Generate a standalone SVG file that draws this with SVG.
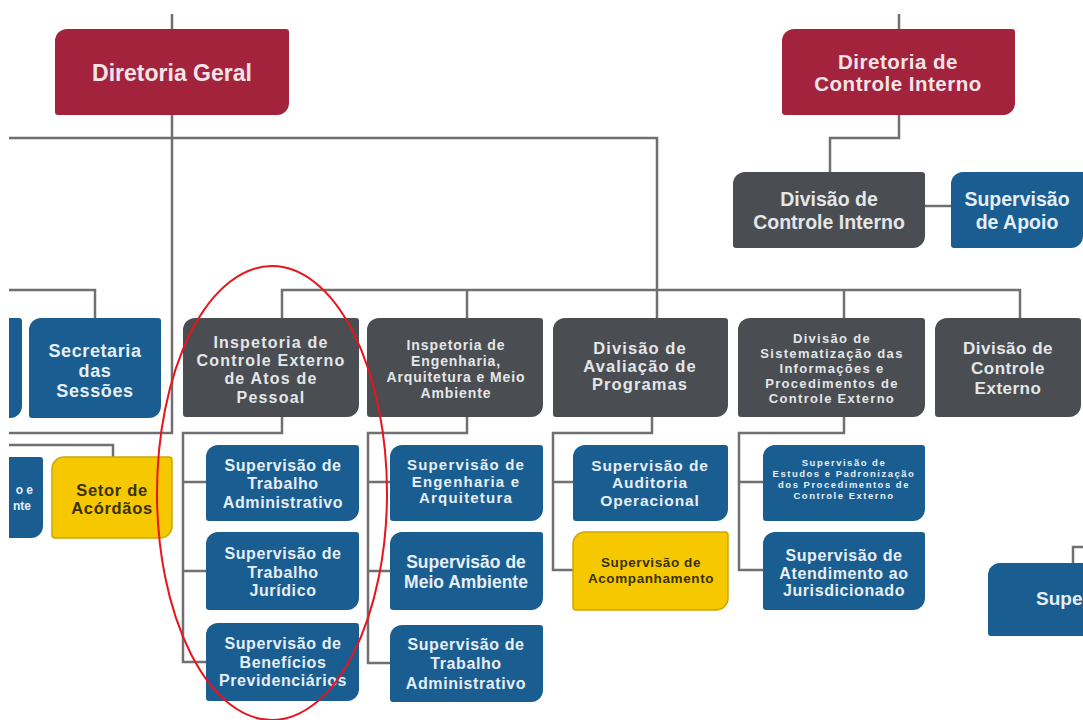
<svg xmlns="http://www.w3.org/2000/svg" width="1083" height="720" viewBox="0 0 1083 720">
<style>
.bg{fill:#ffffff}
.crim{fill:#A3233D}
.gray{fill:#4A4E52}
.blue{fill:#1A5E91}
.yel{fill:#F5C800;stroke:#CFA500;stroke-width:1.5}
.ln{fill:none;stroke:#707070;stroke-width:2.5}
text{font-family:"Liberation Sans",Arial,sans-serif;font-weight:bold;text-anchor:middle}
.tc{fill:#F3E4E8}
.tg{fill:#E4E6E8}
.tb{fill:#E6EEF6}
.ty{fill:#3A3000}
.sup{font-size:16px;letter-spacing:0.6px}
</style>
<rect class="bg" width="1083" height="720"/>
<g id="connectors">
<path class="ln" d="M172,14 V433 H9"/>
<path class="ln" d="M899,14 V29"/>
<path class="ln" d="M9,138 H657 V318"/>
<path class="ln" d="M899,115 V138 H830 V172"/>
<path class="ln" d="M925,206 H951"/>
<path class="ln" d="M9,290 H95 V318"/>
<path class="ln" d="M282,318 V290 H1020 V318"/>
<path class="ln" d="M467,290 V318"/>
<path class="ln" d="M844,290 V318"/>
<path class="ln" d="M9,445 H113 V457"/>
<path class="ln" d="M282,417 V433 H183 V662 H206 M183,482 H206 M183,571 H206"/>
<path class="ln" d="M467,417 V433 H368 V663 H390 M368,482 H390 M368,571 H390"/>
<path class="ln" d="M652,417 V433 H553 V570 H573 M553,482 H573"/>
<path class="ln" d="M844,417 V433 H739 V570 H763 M739,482 H763"/>
<path class="ln" d="M1073,563 V547 H1083"/>
</g>
<g id="diretoria-geral">
<path class="crim" d="M67,29 H286 A3,3 0 0 1 289,32 V103 A12,12 0 0 1 277,115 H58 A3,3 0 0 1 55,112 V41 A12,12 0 0 1 67,29 Z"/>
<text class="tc" x="172" y="80.5" font-size="23">Diretoria Geral</text>
</g>
<g id="diretoria-controle-interno">
<path class="crim" d="M794,29 H1012 A3,3 0 0 1 1015,32 V103 A12,12 0 0 1 1003,115 H785 A3,3 0 0 1 782,112 V41 A12,12 0 0 1 794,29 Z"/>
<text class="tc" x="898" y="69" font-size="20.5" letter-spacing="0.5">Diretoria de</text>
<text class="tc" x="898" y="91" font-size="20.5" letter-spacing="0.5">Controle Interno</text>
</g>
<g id="divisao-controle-interno">
<path class="gray" d="M745,172 H922 A3,3 0 0 1 925,175 V236 A12,12 0 0 1 913,248 H736 A3,3 0 0 1 733,245 V184 A12,12 0 0 1 745,172 Z"/>
<text class="tg" x="829" y="206" font-size="19.5">Divisão de</text>
<text class="tg" x="829" y="229" font-size="19.5">Controle Interno</text>
</g>
<g id="supervisao-apoio">
<path class="blue" d="M963,172 H1083 V236 A12,12 0 0 1 1071,248 H954 A3,3 0 0 1 951,245 V184 A12,12 0 0 1 963,172 Z"/>
<text class="tb" x="1017" y="206" font-size="19.5">Supervisão</text>
<text class="tb" x="1017" y="229" font-size="19.5">de Apoio</text>
</g>
<g id="partial-left-top">
<path class="blue" d="M9,318 H19 A3,3 0 0 1 22,321 V406 A12,12 0 0 1 10,418 H9 Z"/>
</g>
<g id="secretaria-sessoes">
<path class="blue" d="M41,318 H158 A3,3 0 0 1 161,321 V406 A12,12 0 0 1 149,418 H32 A3,3 0 0 1 29,415 V330 A12,12 0 0 1 41,318 Z"/>
<text class="tb" x="95" y="357" font-size="18" letter-spacing="0.6">Secretaria</text>
<text class="tb" x="95" y="377" font-size="18" letter-spacing="0.6">das</text>
<text class="tb" x="95" y="397" font-size="18" letter-spacing="0.6">Sessões</text>
</g>
<g id="inspetoria-atos-pessoal">
<path class="gray" d="M195,318 H356 A3,3 0 0 1 359,321 V405 A12,12 0 0 1 347,417 H186 A3,3 0 0 1 183,414 V330 A12,12 0 0 1 195,318 Z"/>
<text class="tg" x="271" y="347.5" font-size="16" letter-spacing="1.2">Inspetoria de</text>
<text class="tg" x="271" y="365.5" font-size="16" letter-spacing="1.2">Controle Externo</text>
<text class="tg" x="271" y="383.5" font-size="16" letter-spacing="1.2">de Atos de</text>
<text class="tg" x="271" y="402.5" font-size="16" letter-spacing="1.2">Pessoal</text>
</g>
<g id="inspetoria-engenharia">
<path class="gray" d="M379,318 H540 A3,3 0 0 1 543,321 V405 A12,12 0 0 1 531,417 H370 A3,3 0 0 1 367,414 V330 A12,12 0 0 1 379,318 Z"/>
<text class="tg" x="456" y="350" font-size="14" letter-spacing="0.9">Inspetoria de</text>
<text class="tg" x="456" y="366" font-size="14" letter-spacing="0.9">Engenharia,</text>
<text class="tg" x="456" y="382" font-size="14" letter-spacing="0.9">Arquitetura e Meio</text>
<text class="tg" x="456" y="398" font-size="14" letter-spacing="0.9">Ambiente</text>
</g>
<g id="divisao-avaliacao-programas">
<path class="gray" d="M565,318 H725 A3,3 0 0 1 728,321 V405 A12,12 0 0 1 716,417 H556 A3,3 0 0 1 553,414 V330 A12,12 0 0 1 565,318 Z"/>
<text class="tg" x="640" y="354" font-size="16.5" letter-spacing="1.1">Divisão de</text>
<text class="tg" x="640" y="372" font-size="16.5" letter-spacing="1.1">Avaliação de</text>
<text class="tg" x="640" y="390" font-size="16.5" letter-spacing="1.1">Programas</text>
</g>
<g id="divisao-sistematizacao">
<path class="gray" d="M750,318 H922 A3,3 0 0 1 925,321 V405 A12,12 0 0 1 913,417 H741 A3,3 0 0 1 738,414 V330 A12,12 0 0 1 750,318 Z"/>
<text class="tg" x="832" y="343" font-size="13" letter-spacing="1.3">Divisão de</text>
<text class="tg" x="832" y="358" font-size="13" letter-spacing="1.3">Sistematização das</text>
<text class="tg" x="832" y="373" font-size="13" letter-spacing="1.3">Informações e</text>
<text class="tg" x="832" y="388" font-size="13" letter-spacing="1.3">Procedimentos de</text>
<text class="tg" x="832" y="403" font-size="13" letter-spacing="1.3">Controle Externo</text>
</g>
<g id="divisao-controle-externo">
<path class="gray" d="M947,318 H1078 A3,3 0 0 1 1081,321 V405 A12,12 0 0 1 1069,417 H938 A3,3 0 0 1 935,414 V330 A12,12 0 0 1 947,318 Z"/>
<text class="tg" x="1008" y="354" font-size="17" letter-spacing="0.5">Divisão de</text>
<text class="tg" x="1008" y="374" font-size="17" letter-spacing="0.5">Controle</text>
<text class="tg" x="1008" y="394" font-size="17" letter-spacing="0.5">Externo</text>
</g>
<g id="partial-left-bottom">
<path class="blue" d="M9,457 H40 A3,3 0 0 1 43,460 V526 A12,12 0 0 1 31,538 H9 Z"/>
<text class="tb" x="33" y="494" font-size="12" style="text-anchor:end">o e</text>
<text class="tb" x="31" y="510" font-size="12" style="text-anchor:end">nte</text>
</g>
<g id="setor-acordaos">
<path class="yel" d="M64,457 H169 A3,3 0 0 1 172,460 V526 A12,12 0 0 1 160,538 H55 A3,3 0 0 1 52,535 V469 A12,12 0 0 1 64,457 Z"/>
<text class="ty" x="112" y="496" font-size="16.5" letter-spacing="0.7">Setor de</text>
<text class="ty" x="112" y="514" font-size="16.5" letter-spacing="0.7">Acórdãos</text>
</g>
<g id="sup-trabalho-administrativo-1">
<path class="blue" d="M218,445 H356 A3,3 0 0 1 359,448 V509 A12,12 0 0 1 347,521 H209 A3,3 0 0 1 206,518 V457 A12,12 0 0 1 218,445 Z"/>
<text class="tb sup" x="283" y="470.5">Supervisão de</text>
<text class="tb sup" x="283" y="488.5">Trabalho</text>
<text class="tb sup" x="283" y="507.5">Administrativo</text>
</g>
<g id="sup-trabalho-juridico">
<path class="blue" d="M218,532 H356 A3,3 0 0 1 359,535 V598 A12,12 0 0 1 347,610 H209 A3,3 0 0 1 206,607 V544 A12,12 0 0 1 218,532 Z"/>
<text class="tb sup" x="283" y="558.5">Supervisão de</text>
<text class="tb sup" x="283" y="577.5">Trabalho</text>
<text class="tb sup" x="283" y="595.5">Jurídico</text>
</g>
<g id="sup-beneficios-previdenciarios">
<path class="blue" d="M218,623 H356 A3,3 0 0 1 359,626 V689 A12,12 0 0 1 347,701 H209 A3,3 0 0 1 206,698 V635 A12,12 0 0 1 218,623 Z"/>
<text class="tb sup" x="283" y="648.5">Supervisão de</text>
<text class="tb sup" x="283" y="667.5">Benefícios</text>
<text class="tb sup" x="283" y="685.5">Previdenciários</text>
</g>
<g id="sup-engenharia-arquitetura">
<path class="blue" d="M402,445 H540 A3,3 0 0 1 543,448 V509 A12,12 0 0 1 531,521 H393 A3,3 0 0 1 390,518 V457 A12,12 0 0 1 402,445 Z"/>
<text class="tb" x="466" y="470" font-size="15" letter-spacing="1.2">Supervisão de</text>
<text class="tb" x="466" y="487" font-size="15" letter-spacing="1.2">Engenharia e</text>
<text class="tb" x="466" y="503" font-size="15" letter-spacing="1.2">Arquitetura</text>
</g>
<g id="sup-meio-ambiente">
<path class="blue" d="M402,532 H540 A3,3 0 0 1 543,535 V598 A12,12 0 0 1 531,610 H393 A3,3 0 0 1 390,607 V544 A12,12 0 0 1 402,532 Z"/>
<text class="tb" x="466" y="568" font-size="17.5">Supervisão de</text>
<text class="tb" x="466" y="588" font-size="17.5">Meio Ambiente</text>
</g>
<g id="sup-trabalho-administrativo-2">
<path class="blue" d="M402,625 H540 A3,3 0 0 1 543,628 V690 A12,12 0 0 1 531,702 H393 A3,3 0 0 1 390,699 V637 A12,12 0 0 1 402,625 Z"/>
<text class="tb sup" x="466" y="650">Supervisão de</text>
<text class="tb sup" x="466" y="669">Trabalho</text>
<text class="tb sup" x="466" y="689">Administrativo</text>
</g>
<g id="sup-auditoria-operacional">
<path class="blue" d="M585,445 H725 A3,3 0 0 1 728,448 V509 A12,12 0 0 1 716,521 H576 A3,3 0 0 1 573,518 V457 A12,12 0 0 1 585,445 Z"/>
<text class="tb" x="650" y="470.5" font-size="15.5" letter-spacing="0.9">Supervisão de</text>
<text class="tb" x="650" y="487.5" font-size="15.5" letter-spacing="0.9">Auditoria</text>
<text class="tb" x="650" y="505.5" font-size="15.5" letter-spacing="0.9">Operacional</text>
</g>
<g id="sup-acompanhamento">
<path class="yel" d="M585,532 H725 A3,3 0 0 1 728,535 V598 A12,12 0 0 1 716,610 H576 A3,3 0 0 1 573,607 V544 A12,12 0 0 1 585,532 Z"/>
<text class="ty" x="651" y="566.5" font-size="13.5" letter-spacing="0.6">Supervisão de</text>
<text class="ty" x="651" y="582.5" font-size="13.5" letter-spacing="0.6">Acompanhamento</text>
</g>
<g id="sup-estudos-padronizacao">
<path class="blue" d="M775,445 H922 A3,3 0 0 1 925,448 V509 A12,12 0 0 1 913,521 H766 A3,3 0 0 1 763,518 V457 A12,12 0 0 1 775,445 Z"/>
<text class="tb" x="844" y="465.5" font-size="9.5" letter-spacing="1.5">Supervisão de</text>
<text class="tb" x="844" y="476.5" font-size="9.5" letter-spacing="1.5">Estudos e Padronização</text>
<text class="tb" x="844" y="487.5" font-size="9.5" letter-spacing="1.5">dos Procedimentos de</text>
<text class="tb" x="844" y="498.5" font-size="9.5" letter-spacing="1.5">Controle Externo</text>
</g>
<g id="sup-atendimento-jurisdicionado">
<path class="blue" d="M775,532 H922 A3,3 0 0 1 925,535 V598 A12,12 0 0 1 913,610 H766 A3,3 0 0 1 763,607 V544 A12,12 0 0 1 775,532 Z"/>
<text class="tb" x="844" y="560.5" font-size="16" letter-spacing="0.6">Supervisão de</text>
<text class="tb" x="844" y="578.5" font-size="16" letter-spacing="0.6">Atendimento ao</text>
<text class="tb" x="844" y="595.5" font-size="16" letter-spacing="0.6">Jurisdicionado</text>
</g>
<g id="partial-right">
<path class="blue" d="M1000,563 H1083 V636 H991 A3,3 0 0 1 988,633 V575 A12,12 0 0 1 1000,563 Z"/>
<text class="tb" x="1036" y="605" font-size="19" style="text-anchor:start">Supe</text>
</g>
<ellipse cx="272" cy="493" rx="115" ry="227" fill="none" stroke="#E8141C" stroke-width="2"/>
</svg>
